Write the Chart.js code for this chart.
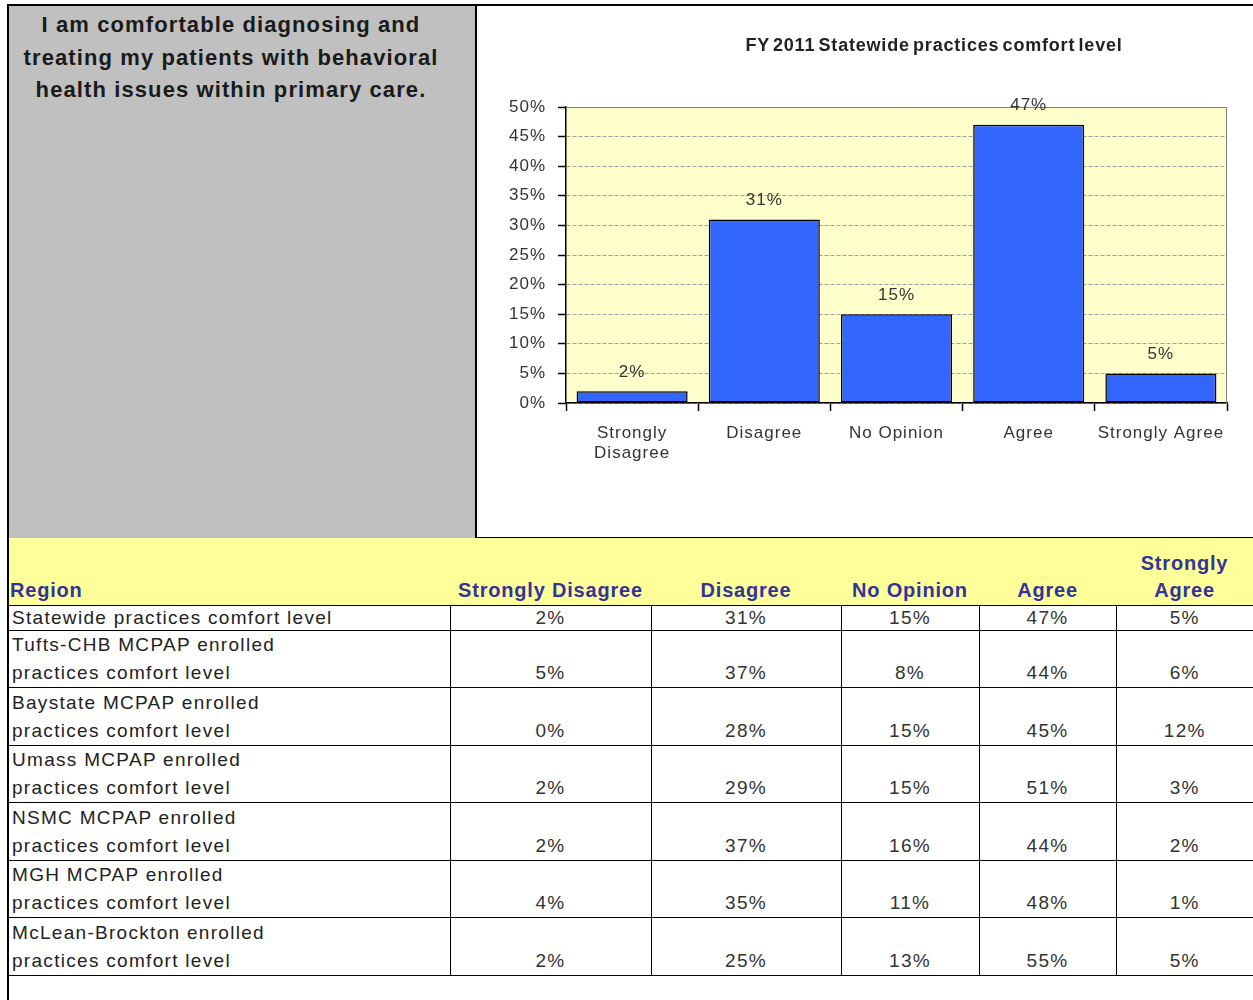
<!DOCTYPE html>
<html lang="en">
<head>
<meta charset="UTF-8">
<title>FY 2011 Statewide practices comfort level</title>
<script src="https://cdn.jsdelivr.net/npm/chart.js"></script>
<style>
  * { box-sizing: border-box; }
  body {
    margin: 0;
    background: #fff;
    font-family: "Liberation Sans", Arial, sans-serif;
  }
  #page { position: relative; width: 1253px; height: 1000px; overflow: hidden; }
  #frame {
    position: absolute; left: 7px; top: 4px; width: 1260px; height: 1010px;
    border-top: 2px solid #000; border-left: 2px solid #000;
  }
  #question {
    position: absolute; left: 9px; top: 6px; width: 466px; height: 532px;
    background: #c0c0c0; padding: 3px 22px 0 0;
    text-align: center; color: #1a1a1a;
    font-weight: bold; font-size: 22px; letter-spacing: 1.1px; line-height: 32.5px;
  }
  #chartBox {
    position: absolute; left: 475px; top: 6px; width: 778px; height: 532px;
    border-left: 2px solid #000; border-bottom: 1px solid #000; background: #fff;
  }
  #chartWrap { position: absolute; left: 477px; top: 6px; width: 776px; height: 530px; }
  #chartTitle {
    position: absolute; left: 734px; top: 35px; width: 400px; text-align: center;
    font-weight: bold; font-size: 18px; line-height: 20px; color: #222;
    letter-spacing: 0.8px; word-spacing: -2.5px;
  }
  #dataTable {
    position: absolute; left: 9px; top: 538px; width: 1244px;
    border-collapse: collapse; table-layout: fixed;
  }
  #dataTable th {
    background: #ffff99; height: 67px; vertical-align: bottom; text-align: center;
    color: #333399; font-weight: bold; font-size: 20px; letter-spacing: 0.8px;
    line-height: 27px; padding: 0 0 1px 0; border-bottom: 1.5px solid #000;
  }
  #dataTable th.region { text-align: left; padding-left: 1px; }
  #dataTable td {
    border-bottom: 1.5px solid #000; border-left: 1px solid #000;
    font-size: 19px; letter-spacing: 1.3px; line-height: 28px;
    vertical-align: bottom; text-align: center; color: #333; padding: 0;
  }
  #dataTable td.region { text-align: left; border-left: none; padding-left: 3px; color: #222; }
  #dataTable tr.one td { height: 25px; line-height: 24px; }
  #dataTable tr.two td { height: 57.5px; }
</style>
</head>
<body>
<div id="page">
  <div id="frame"></div>
  <div id="question">I am comfortable diagnosing and treating my patients with behavioral health issues within primary care.</div>
  <div id="chartBox"></div>
  <div id="chartWrap"><canvas id="comfortChart"></canvas></div>
  <div id="chartTitle">FY 2011 Statewide practices comfort level</div>
  <table id="dataTable">
    <colgroup>
      <col style="width:441px"><col style="width:201px"><col style="width:190px">
      <col style="width:138px"><col style="width:137px"><col style="width:137px">
    </colgroup>
    <tbody id="tableBody"></tbody>
  </table>
</div>

<script>
  // categories and values (percent)
  const categories = ['Strongly Disagree', 'Disagree', 'No Opinion', 'Agree', 'Strongly Agree'];
  const axisLabels = [['Strongly', 'Disagree'], 'Disagree', 'No Opinion', 'Agree', 'Strongly Agree'];
  const yTicks = [0, 5, 10, 15, 20, 25, 30, 35, 40, 45, 50];

  const statewide = [2, 31, 15, 47, 5];
  const tufts = [5, 37, 8, 44, 6];
  const baystate = [0, 28, 15, 45, 12];
  const umass = [2, 29, 15, 51, 3];
  const nsmc = [2, 37, 16, 44, 2];
  const mgh = [4, 35, 11, 48, 1];
  const mclean = [2, 25, 13, 55, 5];

  const regionNames = [
    ['Statewide practices comfort level'],
    ['Tufts-CHB MCPAP enrolled', 'practices comfort level'],
    ['Baystate MCPAP enrolled', 'practices comfort level'],
    ['Umass MCPAP enrolled', 'practices comfort level'],
    ['NSMC MCPAP enrolled', 'practices comfort level'],
    ['MGH MCPAP enrolled', 'practices comfort level'],
    ['McLean-Brockton enrolled', 'practices comfort level']
  ];
  const regionValues = [statewide, tufts, baystate, umass, nsmc, mgh, mclean];

  // table
  let html = '<tr><th class="region">Region</th>' +
    categories.map(c => '<th>' + c + '</th>').join('') + '</tr>';
  regionNames.forEach((name, i) => {
    html += '<tr class="' + (name.length > 1 ? 'two' : 'one') + '">' +
      '<td class="region">' + name.join('<br>') + '</td>' +
      regionValues[i].map(v => '<td>' + v + '%</td>').join('') + '</tr>';
  });
  document.getElementById('tableBody').innerHTML = html;

  // chart helpers
  const plotArea = {
    id: 'plotArea',
    beforeDraw(chart) {
      const { ctx, chartArea: a } = chart;
      ctx.save();
      ctx.fillStyle = '#ffffcc';
      ctx.fillRect(a.left, a.top, a.width, a.height);
      ctx.restore();
      ctx.letterSpacing = '1px';
    },
    beforeDatasetsDraw(chart) {
      const { ctx, chartArea: a } = chart;
      ctx.save();
      ctx.strokeStyle = '#808080';
      ctx.lineWidth = 1;
      ctx.beginPath();
      ctx.moveTo(a.left, a.top + 0.5);
      ctx.lineTo(a.right - 0.5, a.top + 0.5);
      ctx.lineTo(a.right - 0.5, a.bottom);
      ctx.stroke();
      ctx.restore();
    }
  };

  const valueLabels = {
    id: 'valueLabels',
    afterDatasetsDraw(chart) {
      const { ctx } = chart;
      ctx.save();
      ctx.font = '17px "Liberation Sans", Arial, sans-serif';
      ctx.fillStyle = '#333';
      ctx.textAlign = 'center';
      ctx.textBaseline = 'middle';
      chart.getDatasetMeta(0).data.forEach((bar, i) => {
        ctx.fillText(statewide[i] + '%', bar.x, bar.y - 19);
      });
      ctx.restore();
    }
  };

  Chart.defaults.font.family = '"Liberation Sans", Arial, sans-serif';

  new Chart(document.getElementById('comfortChart'), {
    type: 'bar',
    data: {
      labels: axisLabels,
      datasets: [{
        data: statewide,
        backgroundColor: '#3366ff',
        borderColor: '#000',
        borderWidth: 1.5,
        borderSkipped: false,
        barPercentage: 0.84,
        categoryPercentage: 1
      }]
    },
    options: {
      responsive: true,
      maintainAspectRatio: false,
      animation: false,
      layout: { padding: { top: 101, right: 26, left: 0, bottom: 0 } },
      plugins: { legend: { display: false }, tooltip: { enabled: false } },
      scales: {
        x: {
          grid: { drawOnChartArea: false, offset: true, tickLength: 8, tickColor: '#000', tickWidth: 1.5 },
          border: { color: '#000', width: 1.5 },
          ticks: { color: '#333', font: { size: 17, lineHeight: 1.2 }, padding: 12, maxRotation: 0, autoSkip: false },
          afterFit(s) { s.height = 133; }
        },
        y: {
          min: 0,
          max: 50,
          afterBuildTicks(s) { s.ticks = yTicks.map(v => ({ value: v })); },
          ticks: { color: '#333', font: { size: 17 }, padding: 12, callback: v => v + '%' },
          grid: { color: '#a0a0a0', tickColor: '#000', tickLength: 8, tickWidth: 1.5 },
          border: { color: '#000', width: 1.5, dash: [4, 2] },
          afterFit(s) { s.width = 89; }
        }
      }
    },
    plugins: [plotArea, valueLabels]
  });
</script>
</body>
</html>
